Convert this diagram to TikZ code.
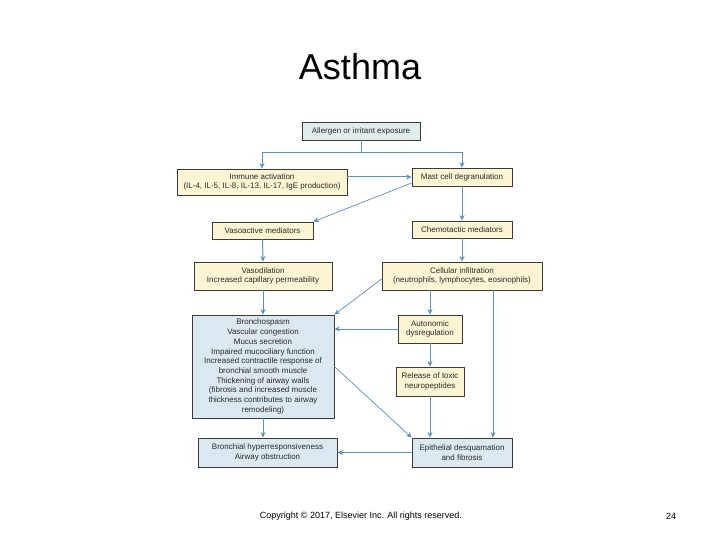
\documentclass[tikz,border=0pt]{standalone}
\usepackage{fontspec}
\setmainfont{Liberation Sans}
\usetikzlibrary{arrows.meta,calc}
\definecolor{boxline}{HTML}{3A3A3A}
\definecolor{yel}{HTML}{FCF5D3}
\definecolor{blu}{HTML}{DCE8EF}
\definecolor{grn}{HTML}{E0ECEC}
\definecolor{arrc}{HTML}{5B8FB9}
\definecolor{textc}{HTML}{2A2A2A}
\newcommand{\boxfont}{\fontsize{8}{9.7}\selectfont}
\tikzset{
  box/.style={draw=boxline, line width=0.8pt, inner sep=0pt, align=center, font=\boxfont, text=textc},
  ybox/.style={box, fill=yel},
  bbox/.style={box, fill=blu},
  arr/.style={draw=arrc, line width=1pt, -{Stealth[length=5.5pt,width=5pt]}},
  thinarr/.style={arr, line width=0.7pt},
}
\begin{document}
\begin{tikzpicture}[x=1pt,y=-1pt]
\useasboundingbox[fill=white] (0,0) rectangle (720,540);
\node[font=\fontsize{36}{40}\selectfont] (title) at (360,67) {Asthma};

\node[box, fill=grn, minimum width=118pt, minimum height=18pt] (allergen) at (361,131) {Allergen or irritant exposure};
\node[ybox, minimum width=170pt, minimum height=26pt] (immune) at (262,182) {Immune activation\\(IL-4, IL-5, IL-8, IL-13, IL-17, IgE production)};
\node[ybox, minimum width=100pt, minimum height=18pt] (mast) at (462,177) {Mast cell degranulation};
\node[ybox, minimum width=101pt, minimum height=17pt] (vaso) at (262.5,230.5) {Vasoactive mediators};
\node[ybox, minimum width=100pt, minimum height=17pt] (chemo) at (462,229.5) {Chemotactic mediators};
\node[ybox, minimum width=138pt, minimum height=28pt] (vasodil) at (263,276) {Vasodilation\\Increased capillary permeability};
\node[ybox, minimum width=160pt, minimum height=28pt] (cell) at (462,276) {Cellular infiltration\\(neutrophils, lymphocytes, eosinophils)};
\node[bbox, minimum width=142pt, minimum height=103pt] (broncho) at (263,366.5) {Bronchospasm\\Vascular congestion\\Mucus secretion\\Impaired mucociliary function\\Increased contractile response of\\bronchial smooth muscle\\Thickening of airway walls\\(fibrosis and increased muscle\\thickness contributes to airway\\remodeling)};
\node[ybox, minimum width=64pt, minimum height=28pt] (auto) at (430,329) {Autonomic\\dysregulation};
\node[ybox, minimum width=68pt, minimum height=29pt] (release) at (430,381.5) {Release of toxic\\neuropeptides};
\node[bbox, minimum width=139pt, minimum height=29pt] (bronchial) at (267.5,452.5) {Bronchial hyperresponsiveness\\Airway obstruction};
\node[bbox, minimum width=100pt, minimum height=29pt] (epith) at (462,452.5) {Epithelial desquamation\\and fibrosis};

\draw[arr] (allergen.south) -- ++(0,12) -| (immune.north);
\draw[arr] (allergen.south) -- ++(0,12) -| (mast.north);
\draw[arr] (immune.east |- mast.west) -- (mast.west);
\draw[thinarr] ([yshift=-6pt]mast.west) -- (vaso.north east);
\draw[arr] (vaso.south) -- (vasodil.north);
\draw[arr] (mast.south) -- (chemo.north);
\draw[arr] (chemo.south) -- (cell.north);
\draw[arr] (vasodil.south) -- (broncho.north);
\draw[thinarr] ([yshift=-3pt]cell.west) -- (broncho.north east);
\draw[arr] (cell.south -| auto.north) -- (auto.north);
\draw[arr] ([xshift=31pt]cell.south) -- ([xshift=31pt]cell.south |- epith.north);
\draw[arr] (auto.west) -- (auto.west -| broncho.east);
\draw[arr] (auto.south) -- (release.north);
\draw[arr] (release.south) -- (release.south |- epith.north);
\draw[thinarr] (broncho.east) -- (epith.north west);
\draw[arr] (broncho.south) -- (broncho.south |- bronchial.north);
\draw[arr] (epith.west) -- (bronchial.east);

\node[font=\fontsize{9}{11}\selectfont] (copy) at (361,516) {Copyright © 2017, Elsevier Inc. All rights reserved.};
\node[font=\fontsize{9}{11}\selectfont] (page) at (671,516) {24};
\end{tikzpicture}
\end{document}
